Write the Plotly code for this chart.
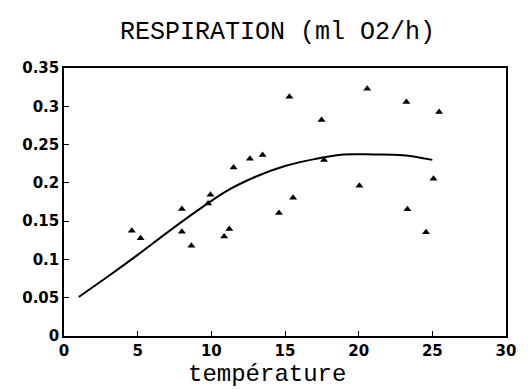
import plotly.graph_objects as go

# observed points
temp_obs = [4.6, 5.2, 8.0, 8.0, 8.65, 9.78, 9.94, 10.87, 11.22, 11.51, 12.62, 13.48,
            14.59, 15.3, 15.55, 17.48, 17.65, 20.05, 20.58, 23.24, 23.31, 24.57, 25.08, 25.46]
resp_obs = [0.1375, 0.1276, 0.166, 0.136, 0.118, 0.173, 0.1846, 0.130, 0.1397, 0.220, 0.2316, 0.2364,
            0.1606, 0.3125, 0.1806, 0.282, 0.2299, 0.1963, 0.323, 0.3056, 0.1654, 0.1354, 0.2055, 0.2925]

# fitted curve
temp_fit = [1, 3, 5, 7, 9, 11, 13, 15, 17, 19, 21, 23, 25]
resp_fit = [0.051, 0.078, 0.106, 0.135, 0.163, 0.189, 0.208, 0.222, 0.231, 0.237, 0.237, 0.236, 0.230]

x_ticks = [0, 5, 10, 15, 20, 25, 30]
y_ticks = [0, 0.05, 0.1, 0.15, 0.2, 0.25, 0.3, 0.35]
y_ticklabels = ["0", "0.05", "0.1", "0.15", "0.2", "0.25", "0.3", "0.35"]

L, R, T, B = 64, 13, 68, 54
W, H = 528, 390
pw, ph = W - L - R, H - T - B

def paper(px, py):
    return (px - L) / pw, (H - B - py) / ph

fig = go.Figure()
fig.add_trace(go.Scatter(x=temp_fit, y=resp_fit, mode="lines",
                         line=dict(color="black", width=2, shape="spline"),
                         showlegend=False))
fig.add_trace(go.Scatter(x=temp_obs, y=resp_obs, mode="markers",
                         marker=dict(symbol="triangle-up", size=7, color="black"),
                         showlegend=False))

tickfont = dict(family="DejaVu Sans", size=15, color="black", weight="bold")
tx, ty = paper(282, 33)
ax, ay = paper(271, 374)
fig.update_layout(
    width=W, height=H,
    margin=dict(l=L, r=R, t=T, b=B),
    paper_bgcolor="white", plot_bgcolor="white",
    xaxis=dict(range=[0, 30], tickvals=x_ticks, ticks="inside", ticklen=5,
               tickcolor="black", showline=True, linecolor="black", linewidth=1.5,
               mirror=True, showgrid=False, zeroline=False, tickfont=tickfont),
    yaxis=dict(range=[0, 0.35], tickvals=y_ticks, ticktext=y_ticklabels,
               ticks="inside", ticklen=5, tickcolor="black", showline=True,
               linecolor="black", linewidth=1.5, mirror=True, showgrid=False,
               zeroline=False, tickfont=tickfont),
    annotations=[
        dict(text="RESPIRATION (ml O2/h)", x=tx, y=ty, xref="paper", yref="paper",
             xanchor="center", yanchor="middle", showarrow=False,
             font=dict(family="Liberation Mono", size=25, color="black")),
        dict(text="température", x=ax, y=ay, xref="paper", yref="paper",
             xanchor="center", yanchor="middle", showarrow=False,
             font=dict(family="Liberation Mono", size=24, color="black")),
    ],
)
fig.write_html("out.html", config={"displayModeBar": False},
               post_script="document.body.style.margin='0';document.body.style.overflow='hidden';")
